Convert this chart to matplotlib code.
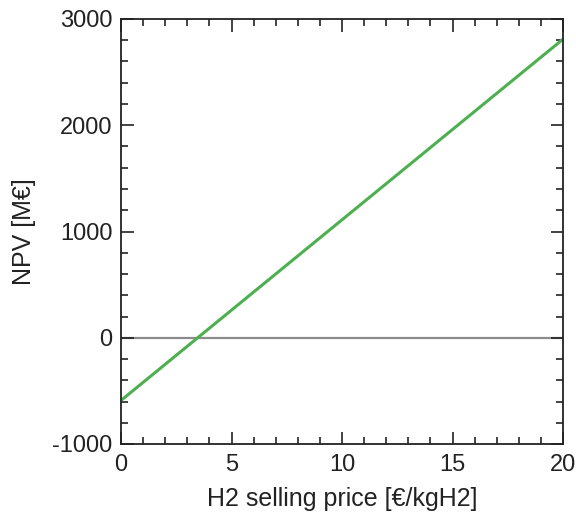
import matplotlib

matplotlib.use("Agg")
import matplotlib.pyplot as plt
import numpy as np
from matplotlib.ticker import MultipleLocator

plt.rcParams["font.family"] = ["Liberation Sans", "DejaVu Sans"]
plt.rcParams["axes.unicode_minus"] = False

# NPV vs hydrogen selling price (linear sensitivity)
price = [0, 20]
npv = [-590, 2810]

fig = plt.figure(figsize=(5.76, 5.13), dpi=100)
ax = fig.add_axes([121 / 576, 69 / 513, 442 / 576, 425 / 513])

ax.axhline(0, color="#8c8c8c", lw=1.6, zorder=1)
ax.plot(price, npv, color="#4caf50", lw=2.2, zorder=2)

ax.set_xlim(0, 20)
ax.set_ylim(-1000, 3000)
ax.xaxis.set_major_locator(MultipleLocator(5))
ax.xaxis.set_minor_locator(MultipleLocator(1))
ax.yaxis.set_major_locator(MultipleLocator(1000))
ax.yaxis.set_minor_locator(MultipleLocator(200))
ax.tick_params(which="both", direction="in", top=True, right=True,
               labelsize=17, colors="#222222", width=1.2)
ax.tick_params(which="major", length=9)
ax.tick_params(which="minor", length=5)
ax.tick_params(axis="x", which="major", pad=7)
ax.tick_params(axis="y", which="major", pad=6)
for s in ax.spines.values():
    s.set_linewidth(1.3)
    s.set_color("#222222")

ax.set_xlabel("H2 selling price [€/kgH2]", fontsize=18, color="#222222", labelpad=8)
ax.set_ylabel("NPV [M€]", fontsize=18, color="#222222", labelpad=12)

fig.savefig("out.png", dpi=100)
